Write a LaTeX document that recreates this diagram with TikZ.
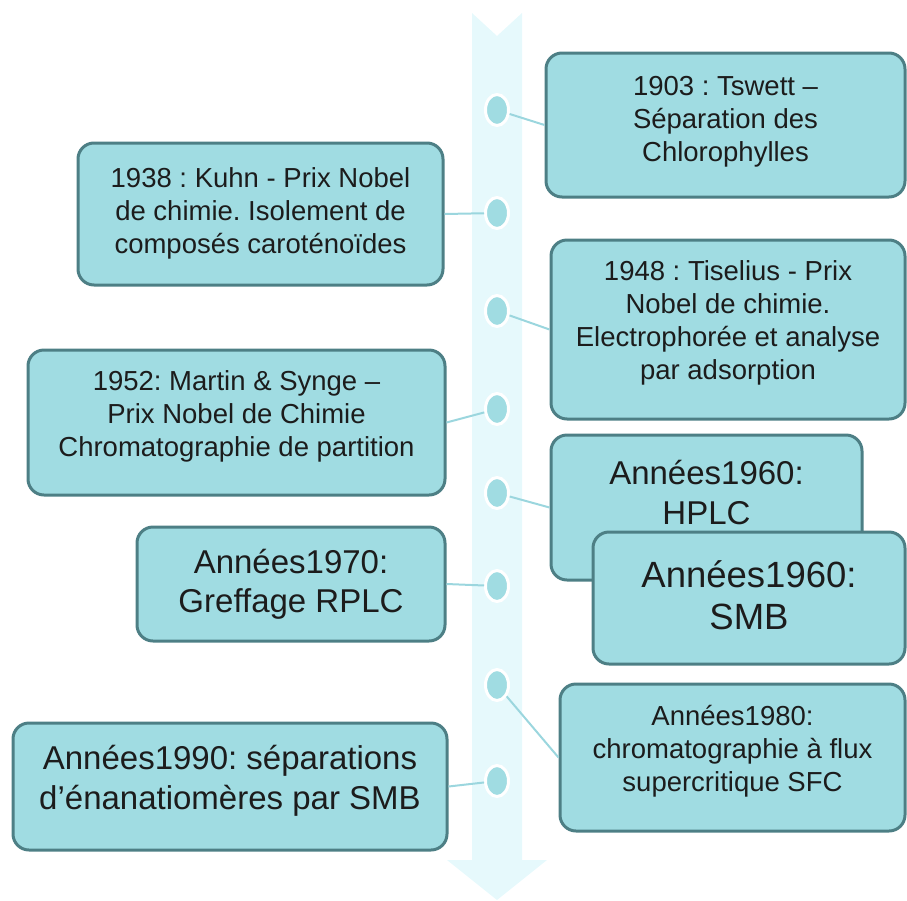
\documentclass[tikz,border=0pt]{standalone}
\usepackage{fontspec}
\setmainfont{Liberation Sans}
\usetikzlibrary{shapes.geometric}
\definecolor{boxfill}{HTML}{A0DCE2}
\definecolor{boxline}{HTML}{4D7F85}
\definecolor{shaft}{HTML}{E6F9FC}
\definecolor{linkcol}{HTML}{9BD6DE}
\definecolor{ink}{HTML}{1C1C1C}
\frenchspacing

\begin{document}
\begin{tikzpicture}[x=1pt, y=-1pt,
  event/.style={draw=boxline, fill=boxfill, line width=3pt, rounded corners=16pt,
    align=center, text=ink, inner sep=0pt, text depth=18pt,
    font=\fontsize{27.5}{33}\selectfont},
  big/.style={font=\fontsize{33}{39.5}\selectfont},
  dot/.style={ellipse, fill=boxfill, draw=white, line width=3pt,
    minimum width=23pt, minimum height=31pt, inner sep=0pt},
  link/.style={draw=linkcol, line width=2pt}]
\useasboundingbox (0,0) rectangle (907,900);
\fill[shaft] (472,13) -- (497,36) -- (522,13) -- (522,860) -- (547,860)
  -- (497,900) -- (447,860) -- (472,860) -- cycle;

\node[dot] (d1) at (497,110) {};
\node[dot] (d2) at (497,213) {};
\node[dot] (d3) at (497,311) {};
\node[dot] (d4) at (497,409) {};
\node[dot] (d5) at (497,493) {};
\node[dot] (d6) at (497,586) {};
\node[dot] (d7) at (497,685) {};
\node[dot] (d8) at (497,781) {};

\node[event, minimum width=359pt, minimum height=144pt, text depth=12pt] (tswett) at (725.5,125)
  {1903 : Tswett --\\Séparation des\\Chlorophylles};
\node[event, minimum width=365pt, minimum height=142pt, text depth=6pt] (kuhn) at (260.5,214)
  {1938 : Kuhn - Prix Nobel\\de chimie. Isolement de\\composés caroténoïdes};
\node[event, minimum width=354pt, minimum height=179pt] (tiselius) at (728,329.5)
  {1948 : Tiselius - Prix\\Nobel de chimie.\\Electrophorée et analyse\\par adsorption};
\node[event, minimum width=417pt, minimum height=145pt] (martin) at (236.5,422.5)
  {1952: Martin \& Synge --\\Prix Nobel de Chimie\\Chromatographie de partition};
\node[event, big, minimum width=311pt, minimum height=145pt, text depth=30pt] (hplc) at (706.5,507.5)
  {Années1960:\\HPLC};
\node[event, minimum width=312pt, minimum height=132pt, text depth=6pt,
  font=\fontsize{36.5}{42}\selectfont] (smb) at (749,598)
  {Années1960:\\SMB};
\node[event, big, minimum width=308pt, minimum height=114pt, text depth=6pt] (rplc) at (291,584)
  {Années1970:\\Greffage RPLC};
\node[event, minimum width=345pt, minimum height=147pt] (sfc) at (732.5,757.5)
  {Années1980:\\chromatographie à flux\\supercritique SFC};
\node[event, big, minimum width=434pt, minimum height=127pt] (enantio) at (230,786.5)
  {Années1990: séparations\\d’énanatiomères par SMB};

\path[link]
(d1) edge (tswett.west)
(kuhn.east) edge (d2)
(d3) edge (tiselius.west)
(martin.east) edge (d4)
(d5) edge (hplc.west)
(rplc.east) edge (d6)
(d7) edge (sfc.west)
(enantio.east) edge (d8);
\end{tikzpicture}
\end{document}
